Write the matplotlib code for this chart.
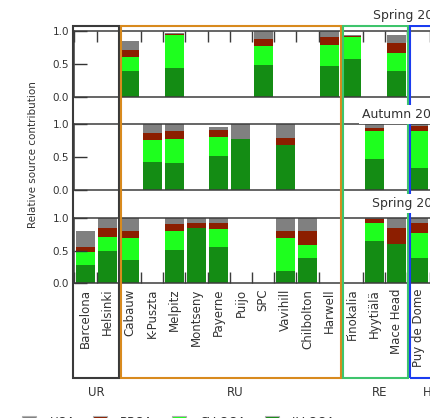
import numpy as np
import matplotlib
matplotlib.use('Agg')
import matplotlib.pyplot as plt
from matplotlib.patches import Rectangle
from matplotlib.transforms import blended_transform_factory

##### Data (relative contributions, 0 = no data)
stations = ['Barcelona', 'Helsinki', 'Cabauw', 'K-Puszta', 'Melpitz', 'Montseny',
            'Payerne', 'Puijo', 'SPC', 'Vavihill', 'Chilbolton', 'Harwell',
            'Finokalia', 'Hyytiälä', 'Mace Head', 'Puy de Dome']
seasons = ['Spring 2008', 'Autumn 2008', 'Spring 2009']
components = ['LV-OOA', 'SV-OOA', 'BBOA', 'HOA']

# Spring 2008
spr08_lv = [0, 0, .39, 0, .44, 0, 0, 0, .49, 0, 0, .477, .58, 0, .39, 0]
spr08_sv = [0, 0, .215, 0, .51, 0, 0, 0, .295, 0, 0, .323, .33, 0, .28, 0]
spr08_bb = [0, 0, .105, 0, .015, 0, 0, 0, .105, 0, 0, .12, .02, 0, .155, 0]
spr08_hoa = [0, 0, .14, 0, .005, 0, 0, 0, .11, 0, 0, .08, .01, 0, .115, 0]
# Autumn 2008
aut08_lv = [0, 0, 0, .433, .42, 0, .52, .78, 0, .68, 0, 0, 0, .47, 0, .34]
aut08_sv = [0, 0, 0, .327, .35, 0, .28, 0, 0, 0, 0, 0, 0, .43, 0, .56]
aut08_bb = [0, 0, 0, .11, .13, 0, .11, 0, 0, .11, 0, 0, 0, .04, 0, .08]
aut08_hoa = [0, 0, 0, .13, .10, 0, .05, .22, 0, .21, 0, 0, 0, .06, 0, .02]
# Spring 2009
spr09_lv = [.28, .50, .35, 0, .51, .84, .56, 0, 0, .18, .39, 0, 0, .645, .595, .38]
spr09_sv = [.20, .20, .345, 0, .29, 0, .27, 0, 0, .505, .195, 0, 0, .28, 0, .38]
spr09_bb = [.08, .14, .095, 0, .105, .075, .09, 0, 0, .105, .205, 0, 0, .055, .255, .16]
spr09_hoa = [.24, .16, .21, 0, .095, .085, .08, 0, 0, .21, .21, 0, 0, .02, .15, .08]

panels = [[spr08_lv, spr08_sv, spr08_bb, spr08_hoa],
          [aut08_lv, aut08_sv, aut08_bb, aut08_hoa],
          [spr09_lv, spr09_sv, spr09_bb, spr09_hoa]]

groups = ['UR', 'RU', 'RE', 'H']
group_first = [0, 2, 12, 15]
group_last = [1, 11, 14, 17]

comp_colors = ['#148c14', '#1eff1e', '#8c1e00', '#808080']
group_colors = ['#3a3a3a', '#d88a1e', '#3ec46c', '#1a3cf0']
legend_order = ['HOA', 'BBOA', 'SV-OOA', 'LV-OOA']

##### Layout (pixels of the 431x418 picture)
W, H = 431, 418
def fx(px): return px / W
def fy(py): return 1 - py / H

ax_left = 74.4
slot = 22.2
nslots = 30
panel_px = [(31.5, 97.0), (124.3, 190.3), (217.7, 283.3)]
txt = '#333333'

plt.rcParams['font.family'] = 'DejaVu Sans'
fig = plt.figure(figsize=(W / 100, H / 100), dpi=100)

x = np.arange(len(stations))
axes = []
for i, (top, bot) in enumerate(panel_px):
    ax = fig.add_axes([fx(ax_left), fy(bot), fx(slot * nslots), (bot - top) / H])
    bottom = np.zeros(len(stations))
    for vals, c in zip(panels[i], comp_colors):
        ax.bar(x, vals, width=0.86, bottom=bottom, color=c, linewidth=0)
        bottom += np.array(vals)
    ax.set_xlim(-0.5, nslots - 0.5)
    ax.set_ylim(0, 1)
    ax.set_yticks([0, 0.5, 1.0], ['0.0', '0.5', '1.0'])
    ax.tick_params(axis='y', direction='in', length=9, width=1, colors=txt,
                   labelsize=7.5, pad=4)
    ax.set_xticks(np.arange(-0.5, nslots), minor=True)
    for s in ax.spines.values():
        s.set_color('#3c3c3c')
        s.set_linewidth(1.1)
    axes.append(ax)

# top panel: boundary ticks on top; bottom panel: boundary ticks + names on bottom
axes[0].tick_params(axis='x', which='minor', direction='in', top=True, bottom=False,
                    length=8, width=1, color='#3c3c3c')
axes[0].tick_params(axis='x', which='major', bottom=False, labelbottom=False)
axes[1].tick_params(axis='x', which='both', bottom=False, labelbottom=False)
axes[2].set_xticks(x, stations, rotation=90)
axes[2].tick_params(axis='x', which='major', length=0, pad=4, labelsize=8.5,
                    labelcolor=txt)
axes[2].tick_params(axis='x', which='minor', direction='in', length=8, width=1,
                    color='#3c3c3c')

trans = blended_transform_factory(axes[2].transData, fig.transFigure)

# group boxes
for k in range(len(groups)):
    left = group_first[k] - 0.5 + (-0.06 if k == 0 else 0.1)
    right = group_last[k] + 0.5 + 0.01
    rect = Rectangle((left, fy(378)), right - left, fy(26) - fy(378), transform=trans,
                     fill=False, edgecolor=group_colors[k], linewidth=1.5, zorder=5)
    fig.add_artist(rect)

# group labels
group_label_x = [0.5, 6.75, 13.25, 15.4]
for g, gx in zip(groups, group_label_x):
    fig.text(gx, fy(392), g, transform=trans, ha='center', va='center',
             fontsize=8.5, color=txt, zorder=6)

# season titles (white background covers the box lines)
title_x = [12.95, 12.44, 12.89]
title_base = [19, 118, 207]
for s, tx, tb in zip(seasons, title_x, title_base):
    fig.text(tx, fy(tb), s, transform=trans, ha='left', va='baseline',
             fontsize=9, color=txt, zorder=6,
             bbox=dict(facecolor='white', edgecolor='none', pad=2))

fig.text(fx(33), fy(155), 'Relative source contribution', rotation=90,
         ha='center', va='center', fontsize=7.5, color=txt)

# legend (cut by the lower edge of the picture)
leg_colors = dict(zip(components, comp_colors))
leg_box_x = [22, 93, 172, 265]
leg_text_x = [50, 120, 200, 292]
for name, bx, tx in zip(legend_order, leg_box_x, leg_text_x):
    fig.add_artist(Rectangle((fx(bx), fy(430)), fx(14), 14 / H,
                             transform=fig.transFigure, facecolor=leg_colors[name],
                             edgecolor='#b0b0b0', linewidth=0.8))
    fig.text(fx(tx), fy(416.0), name, ha='left', va='top', fontsize=8.5, color=txt)

fig.savefig('out.png', dpi=100)
